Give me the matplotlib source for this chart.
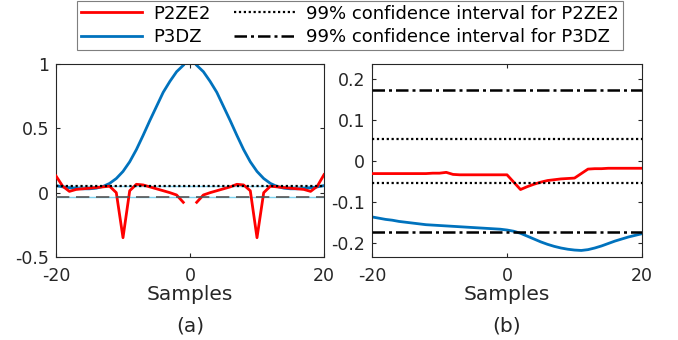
import matplotlib
matplotlib.use("Agg")
import matplotlib.pyplot as plt
import numpy as np

plt.rcParams['font.family'] = ['DejaVu Sans']
plt.rcParams['axes.unicode_minus'] = False

# samples (lag) axis
lags = list(range(-20, 21))
nan = float('nan')

# panel (a) values
p2ze2_a = [0.13, 0.05, 0.01, 0.025, 0.03, 0.035, 0.04, 0.045, 0.05, 0.0,
           -0.35, 0.015, 0.065, 0.06, 0.045, 0.03, 0.015, 0.0, -0.018, -0.075,
           nan,
           -0.075, -0.018, 0.0, 0.015, 0.03, 0.045, 0.065, 0.06, 0.015, -0.35,
           0.0, 0.05, 0.045, 0.04, 0.035, 0.03, 0.025, 0.01, 0.05, 0.14]
p3dz_a = [0.055, 0.045, 0.038, 0.033, 0.03, 0.03, 0.035, 0.048, 0.072, 0.11,
          0.165, 0.24, 0.335, 0.445, 0.56, 0.67, 0.78, 0.865, 0.94, 0.99,
          nan,
          0.99, 0.94, 0.865, 0.78, 0.67, 0.56, 0.445, 0.335, 0.24, 0.165,
          0.11, 0.072, 0.048, 0.035, 0.03, 0.03, 0.033, 0.038, 0.045, 0.055]
ci_p2ze2_a = 0.054
ci_p3dz_a = -0.036

# panel (b) values
p2ze2_b = [-0.031, -0.031, -0.031, -0.031, -0.031, -0.031, -0.031, -0.031, -0.031, -0.030,
           -0.030, -0.028, -0.033, -0.034, -0.034, -0.034, -0.034, -0.034, -0.034, -0.034,
           -0.034,
           -0.052, -0.070, -0.063, -0.057, -0.052, -0.048, -0.046, -0.044, -0.043, -0.042,
           -0.031, -0.020, -0.019, -0.019, -0.018, -0.018, -0.018, -0.018, -0.018, -0.018]
p3dz_b = [-0.137, -0.140, -0.143, -0.145, -0.148, -0.150, -0.152, -0.154, -0.156, -0.157,
          -0.158, -0.159, -0.160, -0.161, -0.162, -0.163, -0.164, -0.165, -0.166, -0.167,
          -0.169,
          -0.172, -0.177, -0.184, -0.191, -0.198, -0.204, -0.209, -0.213, -0.216, -0.218,
          -0.219, -0.217, -0.213, -0.208, -0.202, -0.196, -0.191, -0.186, -0.182, -0.178]
ci_p2ze2_b = 0.053
ci_p3dz_b = 0.174

RED = '#FF0000'
BLUE = '#0072BD'
CYAN = '#7FD3F0'
AXC = '#262626'

fig = plt.figure(figsize=(6.78, 3.4), dpi=100)
ax1 = fig.add_axes([56/678, 83/340, 268/678, 193/340])
ax2 = fig.add_axes([372/678, 83/340, 270/678, 193/340])

# panel (a)
ax1.axhline(ci_p2ze2_a, color=CYAN, lw=1.0, zorder=1)
ax1.axhline(ci_p3dz_a, color=CYAN, lw=1.0, zorder=1)
ax1.plot(lags, p3dz_a, color=BLUE, lw=2, zorder=2)
ax1.plot(lags, p2ze2_a, color=RED, lw=2, zorder=3)
ax1.axhline(ci_p2ze2_a, color='black', lw=1.6, ls=(0, (1, 1.2)), zorder=4)
ax1.axhline(ci_p3dz_a, color='#555555', lw=1.2, ls=(0, (8, 4)), zorder=4)
ax1.set_xlim(-20, 20)
ax1.set_ylim(-0.5, 1)
ax1.set_yticks([-0.5, 0, 0.5, 1])
ax1.set_yticklabels(['-0.5', '0', '0.5', '1'])

# panel (b)
l1, = ax2.plot(lags, p2ze2_b, color=RED, lw=2, zorder=3)
l2, = ax2.plot(lags, p3dz_b, color=BLUE, lw=2, zorder=2)
l3 = ax2.axhline(ci_p2ze2_b, color='black', lw=1.6, ls=(0, (1, 1.2)), zorder=4)
ax2.axhline(-ci_p2ze2_b, color='black', lw=1.6, ls=(0, (1, 1.2)), zorder=4)
l4 = ax2.axhline(ci_p3dz_b, color='black', lw=1.8, ls=(0, (5, 1.6, 1.2, 1.6)), zorder=4)
ax2.axhline(-ci_p3dz_b, color='black', lw=1.8, ls=(0, (5, 1.6, 1.2, 1.6)), zorder=4)
ax2.set_xlim(-20, 20)
ax2.set_ylim(-0.235, 0.237)
ax2.set_yticks([-0.2, -0.1, 0, 0.1, 0.2])
ax2.set_yticklabels(['-0.2', '-0.1', '0', '0.1', '0.2'])

for ax, tag in [(ax1, '(a)'), (ax2, '(b)')]:
    ax.set_xticks([-20, 0, 20])
    ax.set_xticklabels(['-20', '0', '20'])
    ax.tick_params(direction='in', length=3, width=0.8, top=True, right=True,
                   labelsize=12.5, colors=AXC, pad=5)
    ax.tick_params(axis='x', pad=7)
    for s in ax.spines.values():
        s.set_color(AXC)
        s.set_linewidth(0.8)
    ax.set_xlabel('Samples', fontsize=14.5, color=AXC, labelpad=0)
    ax.text(0.5, -0.31, tag, transform=ax.transAxes, ha='center', va='top',
            fontsize=14.5, color=AXC)

# legend across the top
leg = fig.legend([l1, l2, l3, l4],
                 ['P2ZE2', 'P3DZ', '99% confidence interval for P2ZE2',
                  '99% confidence interval for P3DZ'],
                 ncol=2, loc='upper center', bbox_to_anchor=(350/678, 1.0),
                 fontsize=13, frameon=True, fancybox=False, framealpha=1,
                 edgecolor='#7f7f7f', handlelength=3.4, handletextpad=0.6,
                 columnspacing=1.3, borderpad=0.2, labelspacing=0.3,
                 borderaxespad=0.05)
leg.get_frame().set_linewidth(0.8)

fig.savefig('out.png', dpi=100)
